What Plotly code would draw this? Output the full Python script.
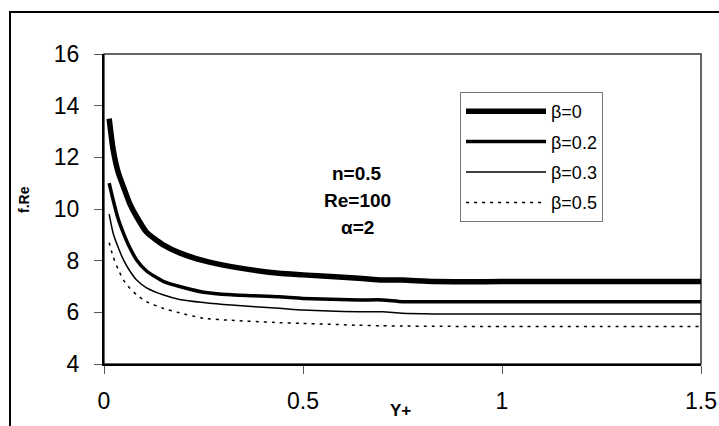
import plotly.graph_objects as go

x_vals = [0.013, 0.023, 0.036, 0.049, 0.065, 0.082, 0.107, 0.15, 0.19, 0.25,
          0.32, 0.44, 0.5, 0.64, 0.7, 0.75, 0.83, 1.0, 1.25, 1.5]
beta0 = [13.5, 12.3, 11.4, 10.85, 10.2, 9.7, 9.1, 8.6, 8.3, 8.0,
         7.77, 7.51, 7.45, 7.32, 7.25, 7.25, 7.19, 7.19, 7.19, 7.19]
beta02 = [11.0, 10.35, 9.6, 9.06, 8.5, 8.03, 7.6, 7.19, 7.0, 6.78,
          6.68, 6.6, 6.54, 6.48, 6.48, 6.41, 6.41, 6.41, 6.41, 6.41]
beta03 = [9.8, 9.06, 8.5, 8.03, 7.6, 7.25, 6.95, 6.67, 6.5, 6.38,
          6.28, 6.16, 6.09, 6.02, 6.02, 5.96, 5.94, 5.94, 5.94, 5.94]
beta05 = [8.7, 8.15, 7.65, 7.25, 6.93, 6.68, 6.41, 6.15, 5.98, 5.77,
          5.69, 5.6, 5.57, 5.5, 5.48, 5.47, 5.46, 5.45, 5.45, 5.45]

series = [
    ("β=0", beta0, 5.5, "solid"),
    ("β=0.2", beta02, 3.5, "solid"),
    ("β=0.3", beta03, 1.5, "solid"),
    ("β=0.5", beta05, 1.5, "3px,5px"),
]

x_ticks = [0, 0.5, 1, 1.5]
x_tick_labels = ["0", "0.5", "1", "1.5"]
y_ticks = [4, 6, 8, 10, 12, 14, 16]

fig = go.Figure()
for i, (name, ys, w, dash) in enumerate(series):
    fig.add_trace(go.Scatter(
        x=x_vals, y=ys, name=name, mode="lines", legendgroup=f"g{i}",
        line=dict(color="black", width=w, dash=dash, shape="spline", smoothing=0.6),
    ))

W, H = 719, 426
L, R, T, B = 104, 18, 54, 62
pw, ph = W - L - R, H - T - B

def px(xp):
    return (xp - L) / pw

def py(yp):
    return (H - B - yp) / ph

font = "Liberation Sans, Arial, sans-serif"

def note(text, x, y, size, angle=0):
    return dict(text=text, x=px(x), y=py(y), xref="paper", yref="paper",
                xanchor="center", yanchor="middle", showarrow=False,
                textangle=angle, font=dict(size=size))

fig.update_layout(
    width=W, height=H,
    margin=dict(l=L, r=R, t=T, b=B, autoexpand=False),
    paper_bgcolor="white", plot_bgcolor="white",
    font=dict(family=font, color="black"),
    showlegend=True,
    legend=dict(
        x=px(460), y=py(92), xanchor="left", yanchor="top",
        bordercolor="#777", borderwidth=1, bgcolor="white",
        font=dict(size=18), itemwidth=80, tracegroupgap=4,
    ),
    xaxis=dict(
        range=[0, 1.5], tickvals=x_ticks, ticktext=x_tick_labels, automargin=False,
        showgrid=False, zeroline=False, showline=True, linecolor="black", linewidth=2,
        ticks="outside", ticklen=8, tickcolor="#555", tickwidth=1,
        tickfont=dict(size=23), ticklabelstandoff=7,
    ),
    yaxis=dict(
        range=[4, 16], tickvals=y_ticks, automargin=False,
        showgrid=False, zeroline=False, showline=True, linecolor="black", linewidth=2,
        ticks="outside", ticklen=8, tickcolor="#555", tickwidth=1,
        tickfont=dict(size=23), ticklabelstandoff=10,
    ),
    shapes=[
        dict(type="rect", xref="paper", yref="paper", x0=0, x1=1, y0=0, y1=1,
             line=dict(color="#333", width=1.5), layer="below"),
        dict(type="rect", xref="paper", yref="paper", x0=px(10), x1=px(760),
             y0=py(460), y1=py(12), line=dict(color="black", width=2), layer="below"),
    ],
    annotations=[
        note("<b>n=0.5</b>", 357, 173, 19),
        note("<b>Re=100</b>", 357, 200, 19),
        note("<b>α=2</b>", 357, 227, 19),
        note("<b>f.Re</b>", 24, 200, 14, -90),
        note("<b>Y+</b>", 400, 410, 17),
    ],
)

fig.write_html("out.html")
